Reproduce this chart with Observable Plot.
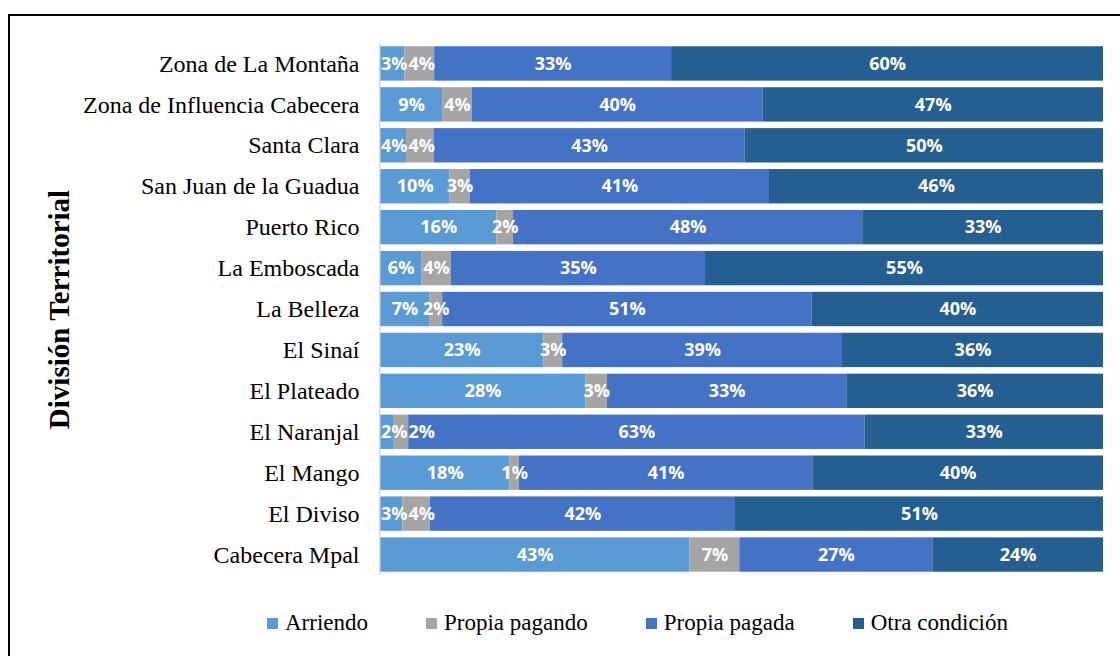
<!DOCTYPE html>
<html>
<head>
<meta charset="utf-8">
<script src="https://cdn.jsdelivr.net/npm/d3@7"></script>
<script src="https://cdn.jsdelivr.net/npm/@observablehq/plot@0.6"></script>
<style>
  html, body { margin: 0; padding: 0; background: #fff; overflow: hidden; width: 1120px; height: 656px; }
  #frame { position: absolute; left: 8px; top: 14px; width: 1200px; height: 700px; border: 2px solid #000; box-sizing: border-box; pointer-events: none; }
  #chart { position: relative; }
  #legend { position: relative; height: 66px; display: flex; align-items: center; padding-left: 267px; gap: 58px; font-family: "Liberation Serif", serif; font-size: 23px; color: #000; }
  .item { display: flex; align-items: center; white-space: nowrap; }
  .sw { display: inline-block; width: 11px; height: 11px; margin-right: 7px; }
</style>
</head>
<body>
<div id="frame"></div>
<div id="chart"></div>
<div id="legend"></div>
<script>
const categories = ["Zona de La Montaña", "Zona de Influencia Cabecera", "Santa Clara", "San Juan de la Guadua", "Puerto Rico", "La Emboscada", "La Belleza", "El Sinaí", "El Plateado", "El Naranjal", "El Mango", "El Diviso", "Cabecera Mpal"];
const series = ["Arriendo", "Propia pagando", "Propia pagada", "Otra condición"];
const colors = ["#5B9BD5", "#A5A5A5", "#4472C4", "#255E91"];
const arriendo      = [3.4, 8.6, 3.6, 9.6, 16.1, 5.7, 6.8, 22.6, 28.4, 1.9, 17.9, 3.1, 42.8];
const propiaPagando = [4.1, 4.1, 3.8, 2.8, 2.3, 4.1, 1.8, 2.6, 3.0, 2.0, 1.3, 3.8, 6.9];
const propiaPagada  = [32.8, 40.2, 43.1, 41.4, 48.3, 35.2, 51.1, 38.7, 33.1, 63.1, 40.6, 42.2, 26.7];
const otraCondicion = [59.8, 47.1, 49.6, 46.2, 33.3, 55.1, 40.3, 36.1, 35.5, 33.0, 40.2, 50.9, 23.6];
const yTitle = "División Territorial";

const W = 1120, H = 590, ML = 380, MR = 17, MT = 43, MB = 15;
const labelFont = "Open Sans", labelSize = 18;

const seriesValues = [arriendo, propiaPagando, propiaPagada, otraCondicion];
const data = [];
categories.forEach((cat, i) => {
  series.forEach((s, j) => data.push({cat, series: s, value: seriesValues[j][i]}));
});

// Label positions: centered in each segment, kept inside the bar start and
// nudged right when neighbouring labels would collide (as the spreadsheet does).
const ctx = document.createElement("canvas").getContext("2d");
ctx.font = `700 ${labelSize}px "${labelFont}"`;
const plotW = W - ML - MR;
const labels = [];
categories.forEach((cat, i) => {
  const total = d3.sum(seriesValues, sv => sv[i]);
  let cum = 0, prevRight = -Infinity;
  series.forEach((s, j) => {
    const v = seriesValues[j][i] / total;
    const text = Math.round(seriesValues[j][i]) + "%";
    const w = (ctx.measureText(text).width + 1) / plotW;
    const c = Math.max(cum + v / 2, w / 2, prevRight + w / 2);
    prevRight = c + w / 2;
    labels.push({cat, series: s, text, pos: c});
    cum += v;
  });
});

const chart = Plot.plot({
  width: W,
  height: H,
  marginLeft: ML,
  marginRight: MR,
  marginTop: MT,
  marginBottom: MB,
  style: {fontFamily: "Liberation Serif", background: "transparent", overflow: "visible"},
  x: {axis: null, domain: [0, 1]},
  y: {domain: categories, paddingInner: 0.16, paddingOuter: 0.08, round: false, axis: null},
  color: {domain: series, range: colors},
  marks: [
    Plot.barX(data, Plot.stackX({x: "value", y: "cat", fill: "series", z: "series", order: series, offset: "normalize"})),
    Plot.text(labels, {
      x: "pos", y: "cat", text: "text",
      fill: "white", fontWeight: 700, fontSize: labelSize, fontFamily: labelFont
    }),
    Plot.ruleX([0], {stroke: "#d9d9d9", strokeWidth: 1.5, dx: -0.75}),
    Plot.axisY({anchor: "left", tickSize: 0, tickPadding: 21, fontSize: 24, fontFamily: "Liberation Serif", fill: "#000", label: null}),
    Plot.text([yTitle], {frameAnchor: "left", dx: -321, rotate: -90, fontSize: 29, fontWeight: "bold", fontFamily: "Liberation Serif", fill: "#000", textAnchor: "middle", lineAnchor: "middle"})
  ]
});
document.getElementById("chart").appendChild(chart);

const legend = document.getElementById("legend");
series.forEach((s, j) => {
  const item = document.createElement("div");
  item.className = "item";
  const sw = document.createElement("span");
  sw.className = "sw";
  sw.style.background = colors[j];
  const t = document.createElement("span");
  t.textContent = s;
  item.appendChild(sw);
  item.appendChild(t);
  legend.appendChild(item);
});
</script>
</body>
</html>
